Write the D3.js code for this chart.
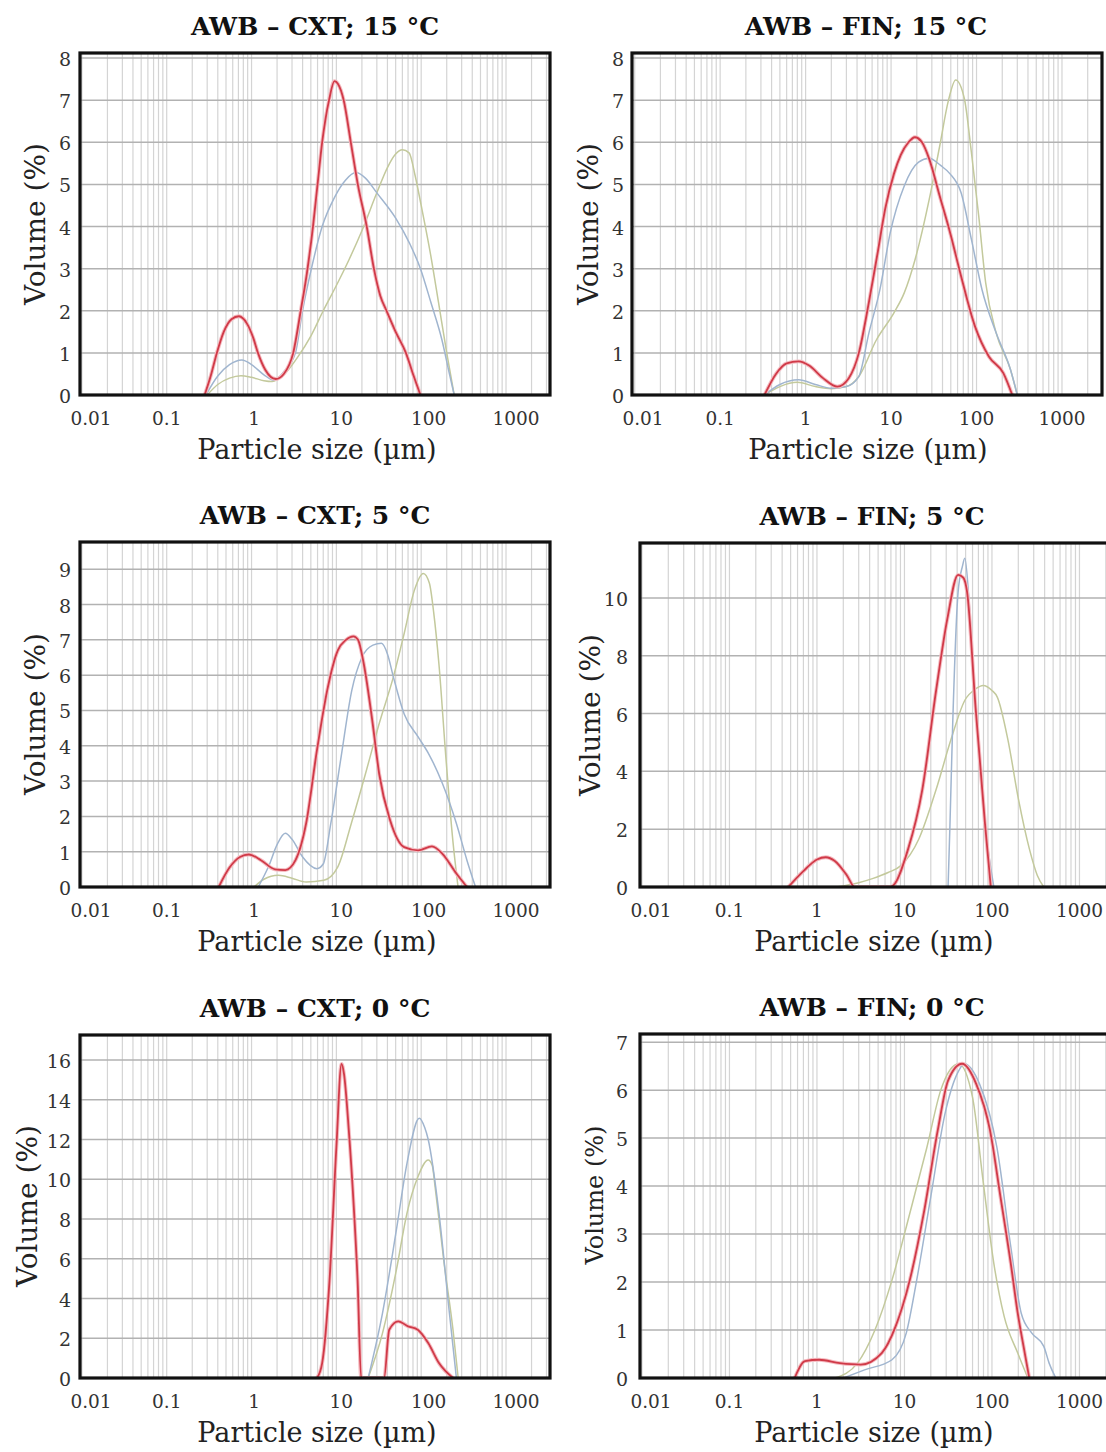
<!DOCTYPE html>
<html>
<head>
<meta charset="utf-8">
<script src="https://cdn.jsdelivr.net/npm/d3@7"></script>
<style>
  body { margin: 0; background: #fff; }
  svg { display: block; }
</style>
</head>
<body>
<svg id="chart" width="1106" height="1452"></svg>
<script>
// ---- axis labels ----
const xTickValues = [0.01, 0.1, 1, 10, 100, 1000];
const xTickLabels = ["0.01", "0.1", "1", "10", "100", "1000"];
const titles = ["AWB – CXT; 15 °C", "AWB – FIN; 15 °C", "AWB – CXT; 5 °C",
                "AWB – FIN; 5 °C", "AWB – CXT; 0 °C", "AWB – FIN; 0 °C"];
const yTicks = [
  [0, 1, 2, 3, 4, 5, 6, 7, 8],
  [0, 1, 2, 3, 4, 5, 6, 7, 8],
  [0, 1, 2, 3, 4, 5, 6, 7, 8, 9],
  [0, 2, 4, 6, 8, 10],
  [0, 2, 4, 6, 8, 10, 12, 14, 16],
  [0, 1, 2, 3, 4, 5, 6, 7]
];
const yMax = [8.12, 8.12, 9.77, 11.9, 17.26, 7.17];

// ---- particle size distributions: [size (µm), volume (%)] ----
const cxt15Red = [[0.28,0],[0.33,0.45],[0.39,1.0],[0.47,1.5],[0.58,1.8],[0.71,1.87],[0.88,1.7],[1.05,1.35],[1.19,1.0],[1.45,0.6],[1.93,0.38],[2.4,0.5],[3.1,1.0],[3.8,2.0],[4.5,2.9],[5.3,4.0],[6.0,5.0],[6.8,6.0],[8.2,7.0],[9.5,7.45],[10.5,7.38],[12.2,7.0],[14.8,6.0],[17.9,5.0],[22.8,4.0],[27.7,3.0],[33,2.35],[39,2.0],[50,1.5],[66,1.0],[80,0.5],[98,0]];
const cxt15Blue = [[0.29,0],[0.4,0.45],[0.55,0.72],[0.77,0.83],[1.0,0.72],[1.4,0.48],[1.84,0.35],[2.4,0.55],[3.29,1.0],[3.99,2.0],[5.08,3.0],[6.8,4.0],[9.55,4.7],[12.8,5.1],[17,5.28],[22,5.15],[30,4.8],[50,4.2],[73,3.6],[98,3.0],[130,2.2],[176,1.3],[210,0.6],[245,0]];
const cxt15Green = [[0.3,0],[0.4,0.25],[0.55,0.4],[0.75,0.46],[1.0,0.42],[1.4,0.34],[1.75,0.32],[2.4,0.48],[3.5,0.9],[5,1.4],[7,2.0],[10,2.6],[14,3.2],[20,3.9],[30,4.8],[40,5.4],[50,5.72],[60,5.82],[72,5.75],[85,5.2],[100,4.5],[130,3.3],[160,2.2],[200,1.0],[245,0]];

const fin15Red = [[0.33,0],[0.45,0.5],[0.6,0.75],[0.83,0.8],[1.1,0.7],[1.6,0.4],[2.35,0.2],[3.2,0.4],[4.2,1.0],[5.5,2.2],[7.0,3.4],[8.5,4.4],[10.8,5.25],[13,5.7],[16,6.0],[19,6.12],[23,6.0],[28,5.6],[37,4.73],[49,3.86],[66,2.82],[96,1.63],[140,0.91],[206,0.52],[262,0]];
const fin15Blue = [[0.33,0],[0.5,0.25],[0.83,0.36],[1.3,0.25],[2,0.16],[3,0.2],[4.2,0.44],[5.5,1.47],[7.4,2.5],[9.8,3.86],[14.3,4.97],[21,5.53],[28,5.62],[38,5.45],[49,5.25],[66,4.8],[87,3.7],[116,2.5],[170,1.47],[250,0.6],[300,0]];
const fin15Green = [[0.33,0],[0.5,0.2],[0.8,0.3],[1.3,0.2],[2,0.15],[3,0.2],[4.2,0.44],[6.7,1.3],[10.8,1.95],[14.3,2.43],[19,3.2],[28,4.65],[37,5.9],[47,7.0],[57,7.48],[72,7.04],[87,5.77],[106,4.26],[128,2.66],[170,1.47],[250,0.6],[300,0]];

const cxt5Red = [[0.41,0],[0.55,0.55],[0.73,0.85],[0.93,0.92],[1.29,0.76],[1.89,0.5],[2.5,0.48],[3.3,0.76],[4.4,1.8],[5.9,3.87],[7.8,5.57],[10.4,6.7],[13,7.0],[15.9,7.1],[18,7.0],[21,6.33],[26.8,4.63],[32,3.2],[43,1.89],[63,1.13],[92,1.04],[134,1.15],[178,0.94],[260,0.38],[346,0]];
const cxt5Blue = [[1.2,0],[1.6,0.6],[2.0,1.2],[2.5,1.52],[3.0,1.35],[4.0,0.85],[5.9,0.52],[7,0.65],[8.6,1.8],[11.4,3.7],[15.2,5.57],[20,6.5],[27,6.85],[34,6.9],[40,6.6],[47,5.95],[63,4.9],[92,4.25],[122,3.78],[178,2.93],[260,1.8],[346,0.76],[437,0]];
const cxt5Green = [[1.07,0],[1.4,0.22],[2.07,0.33],[3,0.25],[4.4,0.14],[7.1,0.19],[10.4,0.57],[15,1.8],[22,3.2],[32,4.63],[47,5.95],[63,7.18],[83,8.4],[106,8.88],[125,8.6],[140,7.8],[162,6.3],[195,3.7],[236,1.32],[272,0]];

const fin5Red = [[0.47,0],[0.7,0.55],[1.0,0.95],[1.26,1.03],[1.6,0.9],[2.2,0.4],[2.7,0],[6.9,0],[11,1.31],[16,3.37],[23,6.8],[31,9.3],[41,10.8],[47,10.7],[52,10.2],[65,6.2],[83,2.23],[97,0]];
const fin5Blue = [[31.5,0],[33,2],[35.6,5.66],[41,10.2],[46,11.1],[49,11.37],[55,9.8],[63,6.8],[83,2.2],[105,0]];
const fin5Green = [[1.66,0],[3,0.15],[4.3,0.29],[6.5,0.5],[9.1,0.74],[14.6,1.66],[23,3.37],[34,5.1],[49,6.46],[65,6.85],[79,6.97],[100,6.8],[115,6.57],[152,5.1],[201,3.03],[268,1.31],[330,0.4],[391,0]];

const cxt0Red = [[5.9,0],[6.8,0.75],[8.3,4.9],[10,11.6],[11.5,15.8],[12.3,15.3],[14,12.5],[16.2,8.3],[17.8,4.9],[19.6,0],[36.5,0],[42,2.43],[53.7,2.85],[70,2.6],[91,2.43],[121,1.76],[162,0.75],[237,0]];
const cxt0Blue = [[23.7,0],[35,3.27],[51,7.45],[68,10.8],[95,13.07],[110,12.6],[121,12.0],[162,8.3],[215,3.27],[260,0]];
const cxt0Green = [[23.7,0],[35,2.26],[51,5.44],[68,8.3],[91,10.1],[121,10.97],[135,10.7],[146,9.6],[186,5.8],[237,2.43],[273,0]];

const fin0Red = [[0.556,0],[0.73,0.35],[1.06,0.38],[1.83,0.31],[3.16,0.28],[5.5,0.52],[7.9,1.07],[11.5,2.04],[16.6,3.43],[24,5.16],[31.5,6.2],[45.6,6.55],[66,6.13],[95,5.16],[125,3.78],[164,2.39],[197,1.35],[237,0.52],[267,0]];
const fin0Blue = [[2.0,0],[3.5,0.17],[7.2,0.38],[10.5,0.94],[13.8,2.04],[20,3.78],[29,5.5],[41.6,6.4],[48,6.55],[72,6.13],[114,4.8],[164,2.74],[216,1.35],[284,0.94],[391,0.66],[450,0.31],[536,0]];
const fin0Green = [[1.6,0],[2.9,0.31],[4.6,1.0],[7.2,2.04],[11.5,3.43],[18,4.8],[26,6.0],[41.6,6.55],[60,5.85],[79,4.12],[105,2.39],[138,1.28],[197,0.52],[257,0]];

const panelSeries = [
  { red: cxt15Red, blue: cxt15Blue, green: cxt15Green },
  { red: fin15Red, blue: fin15Blue, green: fin15Green },
  { red: cxt5Red,  blue: cxt5Blue,  green: cxt5Green },
  { red: fin5Red,  blue: fin5Blue,  green: fin5Green },
  { red: cxt0Red,  blue: cxt0Blue,  green: cxt0Green },
  { red: fin0Red,  blue: fin0Blue,  green: fin0Green }
];

// ---- layout of the six plot frames ----
// xDomain: particle-size range spanned by each frame's width
const frames = [
  { x0: 80,  x1: 550,  y0: 53,   y1: 395,  xDomain: [0.0095, 3300], labelDrift: 2.5, labelX: 35,  labelY: 224,  tickGap: 9,  ylabelSize: 28, titleX: 315 },
  { x0: 632, x1: 1102, y0: 53,   y1: 395,  xDomain: [0.0093, 2940], labelDrift: 0,   labelX: 588, labelY: 224,  tickGap: 8,  ylabelSize: 28, titleX: 866 },
  { x0: 80,  x1: 550,  y0: 542,  y1: 887,  xDomain: [0.0095, 3300], labelDrift: 2.5, labelX: 35,  labelY: 714,  tickGap: 9,  ylabelSize: 28, titleX: 315 },
  { x0: 640, x1: 1110, y0: 543,  y1: 887,  xDomain: [0.0095, 2233], labelDrift: 0,   labelX: 590, labelY: 715,  tickGap: 12, ylabelSize: 28, titleX: 872 },
  { x0: 80,  x1: 550,  y0: 1035, y1: 1378, xDomain: [0.0095, 3300], labelDrift: 2.5, labelX: 27,  labelY: 1206, tickGap: 9,  ylabelSize: 28, titleX: 315 },
  { x0: 640, x1: 1110, y0: 1034, y1: 1378, xDomain: [0.0095, 2233], labelDrift: 0,   labelX: 594, labelY: 1195, tickGap: 12, ylabelSize: 24, titleX: 872 }
];

const FONT = "'DejaVu Serif', 'Liberation Serif', serif";
const colors = { red: "#d03a48", blue: "#a0b5cf", green: "#c3c99c" };
const drawOrder = ["green", "blue", "red"];

// minor log gridline positions 1..9 x 10^k
const gridSizes = [];
for (let k = -3; k <= 3; k++) for (let m = 1; m <= 9; m++) gridSizes.push(m * Math.pow(10, k));

const svg = d3.select("#chart");

frames.forEach((f, i) => {
  const x = d3.scaleLog().domain(f.xDomain).range([f.x0, f.x1]);
  const y = d3.scaleLinear().domain([0, yMax[i]]).range([f.y1, f.y0]);
  const g = svg.append("g");

  const clipId = "clip" + i;
  g.append("clipPath").attr("id", clipId)
    .append("rect").attr("x", f.x0).attr("y", f.y0)
    .attr("width", f.x1 - f.x0).attr("height", f.y1 - f.y0);

  const plot = g.append("g").attr("clip-path", `url(#${clipId})`);

  // vertical log grid
  plot.selectAll("line.vg").data(gridSizes.filter(s => s >= f.xDomain[0] && s <= f.xDomain[1]))
    .join("line").attr("class", "vg")
    .attr("x1", d => x(d)).attr("x2", d => x(d))
    .attr("y1", f.y0).attr("y2", f.y1)
    .attr("stroke", "#d4d4d4").attr("stroke-width", 1.2);

  // horizontal grid
  plot.selectAll("line.hg").data(yTicks[i])
    .join("line").attr("class", "hg")
    .attr("x1", f.x0).attr("x2", f.x1)
    .attr("y1", d => y(d)).attr("y2", d => y(d))
    .attr("stroke", "#b2b2b2").attr("stroke-width", 1.5);

  // curves
  const line = d3.line().x(d => x(d[0])).y(d => y(d[1])).curve(d3.curveMonotoneX);
  drawOrder.forEach(name => {
    const data = panelSeries[i][name];
    if (name === "red") {
      plot.append("path").attr("d", line(data)).attr("fill", "none")
        .attr("stroke", "#f5bcc2").attr("stroke-width", 3.8).attr("stroke-linejoin", "round");
      plot.append("path").attr("d", line(data)).attr("fill", "none")
        .attr("stroke", colors.red).attr("stroke-width", 1.8).attr("stroke-linejoin", "round");
    } else {
      plot.append("path").attr("d", line(data)).attr("fill", "none")
        .attr("stroke", colors[name]).attr("stroke-width", 1.5).attr("stroke-linejoin", "round");
    }
  });

  // frame
  g.append("rect").attr("x", f.x0).attr("y", f.y0)
    .attr("width", f.x1 - f.x0).attr("height", f.y1 - f.y0)
    .attr("fill", "none").attr("stroke", "#111").attr("stroke-width", 3.2);

  // y tick labels
  g.selectAll("text.yt").data(yTicks[i]).join("text").attr("class", "yt")
    .attr("x", f.x0 - f.tickGap).attr("y", d => y(d) + 8)
    .attr("text-anchor", "end").attr("font-family", FONT).attr("font-size", 19)
    .attr("fill", "#333").text(d => d);

  // x tick labels (the first one is kept inside the frame's left edge)
  g.selectAll("text.xt").data(xTickValues).join("text").attr("class", "xt")
    .attr("x", d => Math.max(x(d) + (Math.log10(d) + 1) * f.labelDrift, f.x0 + 11))
    .attr("y", f.y1 + 30)
    .attr("text-anchor", "middle").attr("font-family", FONT).attr("font-size", 18.5)
    .attr("fill", "#333").text((d, j) => xTickLabels[j]);

  // axis titles
  g.append("text").attr("x", f.titleX + 2).attr("y", f.y1 + 64)
    .attr("text-anchor", "middle").attr("font-family", FONT).attr("font-size", 27)
    .attr("fill", "#222").text("Particle size (µm)");

  g.append("text")
    .attr("transform", `translate(${f.labelX + f.ylabelSize * 0.36},${f.labelY}) rotate(-90)`)
    .attr("text-anchor", "middle").attr("font-family", FONT).attr("font-size", f.ylabelSize)
    .attr("fill", "#222").text("Volume (%)");

  // panel title
  g.append("text").attr("x", f.titleX).attr("y", f.y0 - 18)
    .attr("text-anchor", "middle").attr("font-family", FONT).attr("font-weight", "bold")
    .attr("font-size", 25).attr("fill", "#111").text(titles[i]);
});
</script>
</body>
</html>
